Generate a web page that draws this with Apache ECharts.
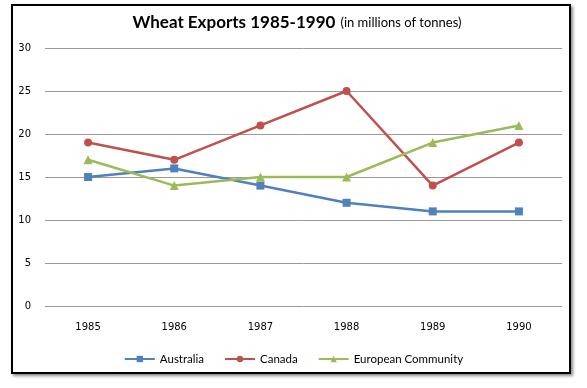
<!DOCTYPE html>
<html><head><meta charset="utf-8">
<script src="https://cdn.jsdelivr.net/npm/echarts@6/dist/echarts.min.js"></script>
<style>
html,body{margin:0;padding:0;background:#fff;}
#frame{position:absolute;left:11px;top:4px;width:556px;height:366px;border:2px solid #000;box-shadow:2px 2px 3px #888;background:#fff;}
#c{position:absolute;left:0;top:0;width:587px;height:388px;}
</style></head>
<body>
<div id="frame"></div>
<div id="c"></div>
<script>
const years = ['1985','1986','1987','1988','1989','1990'];
const australia = [15, 16, 14, 12, 11, 11];
const canada = [19, 17, 21, 25, 14, 19];
const europeanCommunity = [17, 14, 15, 15, 19, 21];
const yTicks = {min: 0, max: 30, interval: 5};

const chart = echarts.init(document.getElementById('c'), null, {renderer: 'canvas'});
const mk = (name, data, color, symbol, size) => ({
  name, type: 'line', data, symbol, symbolSize: size,
  lineStyle: {color, width: 2.5}, itemStyle: {color},
  animation: false
});
chart.setOption({
  backgroundColor: 'transparent',
  animation: false,
  title: {
    text: '{b|Wheat Exports 1985-1990} {s|(in millions of tonnes)}',
    left: 292, top: 9, textAlign: 'center',
    textStyle: {fontWeight: 'normal', rich: {
      b: {fontFamily: 'Lato', fontWeight: 'bold', fontSize: 17, color: '#000'},
      s: {fontFamily: 'Lato', fontWeight: 'normal', fontSize: 13, color: '#000'}
    }}
  },
  grid: {left: 45, right: 25, top: 48, bottom: 82},
  xAxis: {
    type: 'category', data: years, boundaryGap: true,
    axisLine: {show: false}, axisTick: {show: false},
    axisLabel: {fontFamily: 'DejaVu Sans', fontSize: 10, color: '#000', margin: 16}
  },
  yAxis: {
    type: 'value', min: yTicks.min, max: yTicks.max, interval: yTicks.interval,
    axisLine: {show: false}, axisTick: {show: false},
    splitLine: {lineStyle: {color: '#999', width: 1}},
    axisLabel: {fontFamily: 'DejaVu Sans', fontSize: 10, color: '#000', margin: 14}
  },
  legend: {
    bottom: 18, left: 'center', itemGap: 20, itemWidth: 30, itemHeight: 8,
    textStyle: {fontFamily: 'Lato', fontSize: 11.5, color: '#000'},
    data: ['Australia', 'Canada', 'European Community']
  },
  series: [
    mk('Australia', australia, '#4F81BD', 'rect', 8),
    mk('Canada', canada, '#C0504D', 'circle', 8),
    mk('European Community', europeanCommunity, '#9BBB59', 'triangle', 9)
  ]
});
</script>
</body></html>
